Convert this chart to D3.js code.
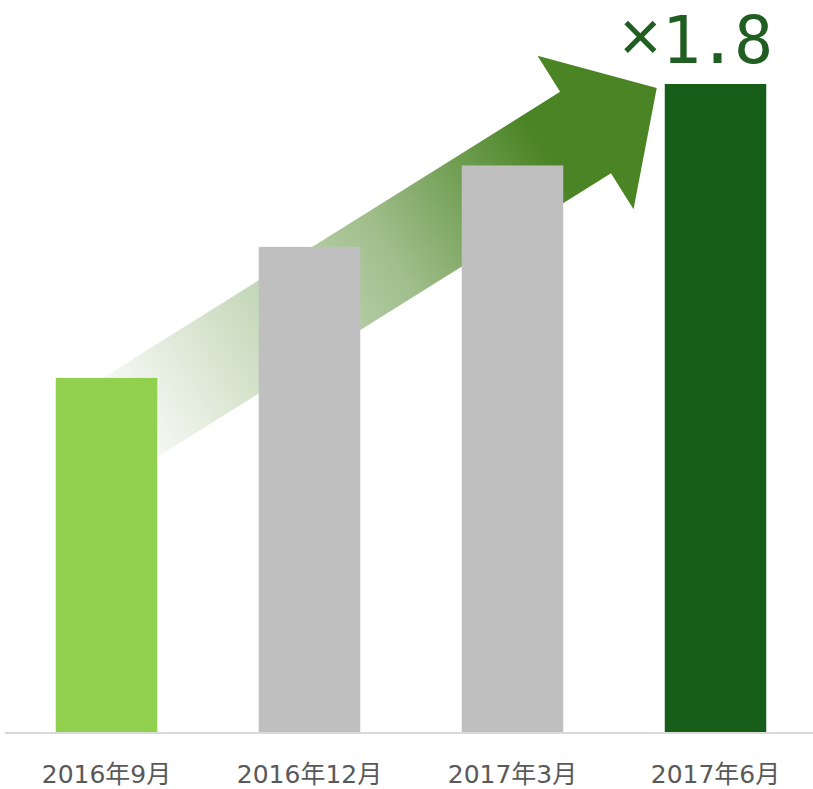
<!DOCTYPE html>
<html>
<head>
<meta charset="utf-8">
<script src="https://cdn.jsdelivr.net/npm/d3@7"></script>
<style>
  body { margin: 0; background: #fff; }
  svg { display: block; }
</style>
</head>
<body>
<div id="chart"></div>
<script>
// DATA
let categories = ['2016年9月', '2016年12月', '2017年3月', '2017年6月'];
let values = [100, 137, 160, 183];
let barColors = ['#92d050', '#bfbfbf', '#bfbfbf', '#155d18'];
let growthSign = '×',
    growthValue = '1.8';

// PLOTTING VARIABLES
let width = 813,
    height = 789,
    baseline = 732;

let svg = d3.select('#chart')
    .append('svg')
    .attr('width', width)
    .attr('height', height);

let x = d3.scaleBand()
    .domain(categories)
    .range([5, 817])
    .paddingInner(0.5)
    .paddingOuter(0.25);

let y = d3.scaleLinear()
    .domain([0, d3.max(values)])
    .range([baseline, 84]);

// arrow from first bar up to the last one
let tail = [x(categories[0]) + 64, y(values[0]) + 46],
    tip = [x(categories[3]) - 8, y(values[3]) + 4];

let dx = tip[0] - tail[0], dy = tip[1] - tail[1];
let len = Math.sqrt(dx * dx + dy * dy);
let u = [dx / len, dy / len],
    n = [u[1], -u[0]];
let shaftHalf = 48, headHalf = 90.5, headLen = 84;
let neck = [tip[0] - u[0] * headLen, tip[1] - u[1] * headLen];
let pt = (p, k) => [p[0] + n[0] * k, p[1] + n[1] * k];

let arrowPts = [
    pt(tail, shaftHalf), pt(neck, shaftHalf), pt(neck, headHalf), tip,
    pt(neck, -headHalf), pt(neck, -shaftHalf), pt(tail, -shaftHalf)
];

let grad = svg.append('defs')
    .append('linearGradient')
    .attr('id', 'arrowGrad')
    .attr('gradientUnits', 'userSpaceOnUse')
    .attr('x1', tail[0]).attr('y1', tail[1])
    .attr('x2', tip[0]).attr('y2', tip[1]);

grad.selectAll('stop')
    .data([[0, 0.03], [0.25, 0.28], [0.5, 0.52], [0.8, 1], [1, 1]])
    .enter()
    .append('stop')
    .attr('offset', d => d[0])
    .attr('stop-color', '#4a8424')
    .attr('stop-opacity', d => d[1]);

svg.append('path')
    .attr('d', d3.line()(arrowPts) + 'Z')
    .attr('fill', 'url(#arrowGrad)');

// bars
svg.selectAll('.bar')
    .data(values)
    .enter()
    .append('rect')
    .attr('class', 'bar')
    .attr('x', (d, i) => x(categories[i]))
    .attr('y', d => y(d))
    .attr('width', x.bandwidth())
    .attr('height', d => baseline - y(d))
    .attr('fill', (d, i) => barColors[i]);

// baseline
svg.append('line')
    .attr('x1', 5).attr('x2', width)
    .attr('y1', baseline + 1).attr('y2', baseline + 1)
    .attr('stroke', '#d9d9d9')
    .attr('stroke-width', 2);

// category labels
svg.selectAll('.label')
    .data(categories)
    .enter()
    .append('text')
    .attr('class', 'label')
    .attr('x', d => x(d) + x.bandwidth() / 2)
    .attr('y', 783)
    .attr('text-anchor', 'middle')
    .attr('font-family', '"DejaVu Sans", "Noto Sans CJK JP", sans-serif')
    .attr('font-size', 25)
    .attr('fill', '#595959')
    .text(d => d);

// growth annotation
let growth = svg.append('text')
    .attr('x', x(categories[3]) + x.bandwidth() + 4)
    .attr('y', 63)
    .attr('text-anchor', 'end')
    .attr('fill', '#215e21');

growth.append('tspan')
    .attr('font-family', '"Liberation Mono", monospace')
    .attr('font-size', 72)
    .attr('dy', -2)
    .text(growthSign);

growth.append('tspan')
    .attr('font-family', '"DejaVu Sans Mono", monospace')
    .attr('font-size', 65)
    .attr('dy', 2)
    .attr('letter-spacing', -3)
    .text(growthValue);
</script>
</body>
</html>
